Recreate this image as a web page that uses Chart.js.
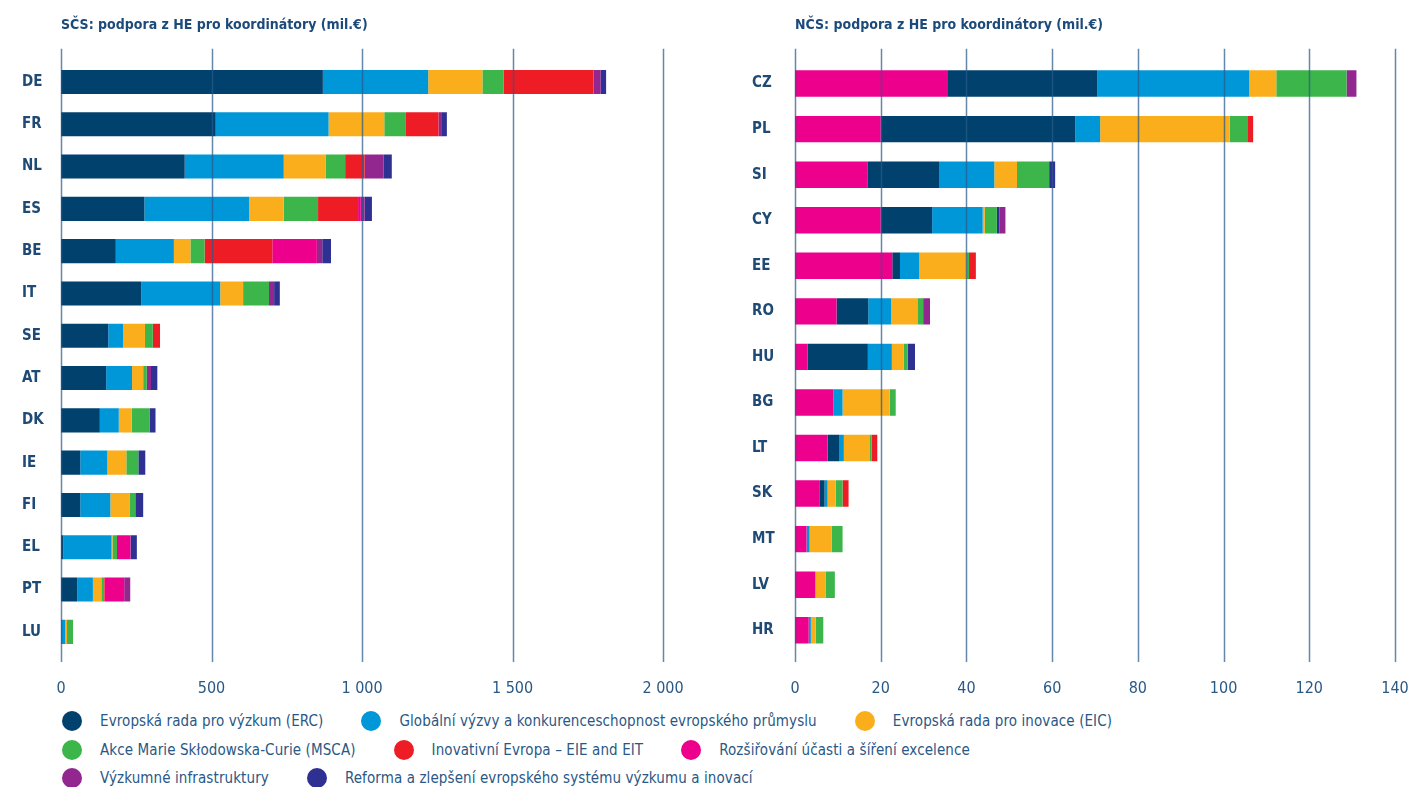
<!DOCTYPE html>
<html lang="cs">
<head>
<meta charset="utf-8">
<title>Podpora z HE pro koordinátory</title>
<script src="https://cdn.jsdelivr.net/npm/chart.js@4.4.1/dist/chart.umd.min.js"></script>
<style>
  body { margin: 0; background: #fff; font-family: 'Liberation Sans Narrow', 'DejaVu Sans Condensed', sans-serif; }
  #wrap { position: relative; width: 1420px; height: 787px; overflow: hidden; }
  #left { position: absolute; left: 0; top: 0; }
  #right { position: absolute; left: 700px; top: 0; }
  #legend { position: absolute; left: 62px; top: 707px; color: #2a5885; font-size: 15px; letter-spacing: 0.1px; }
  .row { display: flex; align-items: center; height: 28.5px; white-space: nowrap; }
  .item { display: flex; align-items: center; margin-right: 38px; }
  .dot { width: 20px; height: 20px; border-radius: 50%; margin-right: 18px; flex: none; }
</style>
</head>
<body>
<div id="wrap">
  <canvas id="left" width="700" height="700"></canvas>
  <canvas id="right" width="720" height="700"></canvas>
  <div id="legend"></div>
</div>
<script>
// SČS – staré členské státy (mil. €)
const scsCountries = ['DE', 'FR', 'NL', 'ES', 'BE', 'IT', 'SE', 'AT', 'DK', 'IE', 'FI', 'EL', 'PT', 'LU'];
const scsErc       = [870, 514, 411, 277, 182, 267, 157, 150, 129, 64, 64, 8, 54, 0];
const scsGlobal    = [350, 375, 329, 348, 193, 262, 49, 86, 63, 90, 100, 160, 52, 14];
const scsEic       = [180, 185, 140, 115, 55, 76, 73, 37, 43, 63, 65, 3, 28, 6];
const scsMsca      = [70, 72, 64, 114, 47, 86, 26, 12, 59, 40, 17, 15, 9, 20];
const scsInnov     = [299, 108, 65, 133, 225, 0, 24, 0, 0, 0, 0, 0, 2, 0];
const scsWidening  = [0, 0, 0, 9, 148, 0, 0, 0, 0, 0, 0, 44, 65, 0];
const scsInfra     = [24, 9, 62, 13, 18, 17, 0, 14, 0, 0, 2, 2, 20, 0];
const scsReform    = [18, 19, 28, 24, 29, 19, 0, 21, 20, 23, 25, 20, 0, 0];
const scsTicks     = [0, 500, 1000, 1500, 2000];

// NČS – nové členské státy (mil. €)
const ncsCountries = ['CZ', 'PL', 'SI', 'CY', 'EE', 'RO', 'HU', 'BG', 'LT', 'SK', 'MT', 'LV', 'HR'];
const ncsWidening  = [35.7, 20.0, 17.0, 20.0, 22.7, 9.7, 2.9, 9.0, 7.6, 5.8, 2.7, 4.7, 3.2];
const ncsErc       = [34.8, 45.4, 16.6, 12.0, 1.8, 7.4, 14.1, 0, 2.8, 1.1, 0, 0, 0];
const ncsGlobal    = [35.5, 5.8, 12.9, 11.8, 4.5, 5.3, 5.6, 2.1, 1.0, 0.7, 0.7, 0.1, 0.5];
const ncsEic       = [6.3, 30.2, 5.3, 0.5, 11.0, 6.3, 2.8, 11.0, 6.1, 1.9, 5.2, 2.4, 1.1];
const ncsMsca      = [16.4, 4.3, 7.5, 2.8, 0.6, 1.2, 0.9, 1.4, 0.4, 1.6, 2.5, 2.1, 1.8];
const ncsInnov     = [0, 1.2, 0, 0, 1.6, 0, 0, 0, 1.3, 1.4, 0, 0, 0];
const ncsReform    = [0, 0, 1.4, 0.6, 0, 0, 1.7, 0, 0, 0, 0, 0, 0];
const ncsInfra     = [2.3, 0, 0, 1.4, 0, 1.6, 0, 0, 0, 0, 0, 0, 0];
const ncsTicks     = [0, 20, 40, 60, 80, 100, 120, 140];

const programmes = [
  'Evropská rada pro výzkum (ERC)',
  'Globální výzvy a konkurenceschopnost evropského průmyslu',
  'Evropská rada pro inovace (EIC)',
  'Akce Marie Skłodowska-Curie (MSCA)',
  'Inovativní Evropa – EIE and EIT',
  'Rozšiřování účasti a šíření excelence',
  'Výzkumné infrastruktury',
  'Reforma a zlepšení evropského systému výzkumu a inovací'
];
const colours = ['#00416e', '#0097d9', '#fbae1c', '#3cb54a', '#ee1d25', '#ec008c', '#92278f', '#2e3192'];
const legendRows = [[0, 1, 2], [3, 4, 5], [6, 7]];

const FONT = "'Liberation Sans Narrow', 'DejaVu Sans Condensed', sans-serif";
const TEXT = '#2a5885';

// vertical grid lines drawn over the bars, a bit taller than the plot area
const gridOverlay = {
  id: 'gridOverlay',
  afterDatasetsDraw(chart) {
    const ctx = chart.ctx;
    const x = chart.scales.x;
    const { top, bottom } = chart.chartArea;
    ctx.save();
    ctx.strokeStyle = 'rgba(40, 90, 140, 0.72)';
    ctx.lineWidth = 1.5;
    x.ticks.forEach(t => {
      const px = Math.round(x.getPixelForValue(t.value)) + 0.5;
      ctx.beginPath();
      ctx.moveTo(px, top - 12);
      ctx.lineTo(px, bottom + 9);
      ctx.stroke();
    });
    ctx.restore();
  }
};

function thousands(v) {
  return String(v).replace(/\B(?=(\d{3})+(?!\d))/g, ' ');
}

function makeChart(id, title, labels, series, order, max, tickList, pad, axisWidth, barPct) {
  return new Chart(document.getElementById(id), {
    type: 'bar',
    data: {
      labels: labels,
      datasets: order.map(k => ({
        label: programmes[k],
        data: series[k],
        backgroundColor: colours[k],
        borderWidth: 0,
        categoryPercentage: 1,
        barPercentage: barPct
      }))
    },
    options: {
      indexAxis: 'y',
      responsive: false,
      animation: false,
      layout: { padding: pad },
      plugins: {
        legend: { display: false },
        tooltip: { enabled: false },
        title: {
          display: true,
          text: title,
          align: 'start',
          fullSize: false,
          color: '#1b4a7b',
          font: { family: FONT, size: 14, weight: 'bold' },
          padding: { top: 17, bottom: 27 }
        }
      },
      scales: {
        x: {
          stacked: true,
          min: 0,
          max: max,
          afterBuildTicks: s => { s.ticks = tickList.map(v => ({ value: v })); },
          afterFit: s => { s.height = 45; s.paddingLeft = 0; s.paddingRight = 0; },
          grid: { display: false, drawTicks: false },
          border: { display: false },
          ticks: {
            maxRotation: 0,
            padding: 26,
            color: TEXT,
            font: { family: FONT, size: 16 },
            callback: v => thousands(v)
          }
        },
        y: {
          stacked: true,
          grid: { display: false, drawTicks: false },
          border: { display: false },
          afterFit: s => { s.width = axisWidth; s.paddingTop = 0; s.paddingBottom = 0; },
          ticks: {
            crossAlign: 'far',
            padding: 0,
            color: '#1f4a75',
            font: { family: FONT, size: 15, weight: 'bold' }
          }
        }
      }
    },
    plugins: [gridOverlay]
  });
}

const scsSeries = [scsErc, scsGlobal, scsEic, scsMsca, scsInnov, scsWidening, scsInfra, scsReform];
const ncsSeries = [ncsErc, ncsGlobal, ncsEic, ncsMsca, ncsInnov, ncsWidening, ncsInfra, ncsReform];

makeChart('left', 'SČS: podpora z HE pro koordinátory (mil.€)', scsCountries, scsSeries,
  [0, 1, 2, 3, 4, 5, 6, 7], 2000, scsTicks,
  { left: 22, right: 37, top: 0, bottom: 2 }, 39, 0.57);

makeChart('right', 'NČS: podpora z HE pro koordinátory (mil.€)', ncsCountries, ncsSeries,
  [5, 0, 1, 2, 3, 4, 7, 6], 140, ncsTicks,
  { left: 52, right: 25, top: 0, bottom: 2 }, 43, 0.58);

// shared legend under both charts
const legend = document.getElementById('legend');
legendRows.forEach(row => {
  const r = document.createElement('div');
  r.className = 'row';
  row.forEach(k => {
    const item = document.createElement('div');
    item.className = 'item';
    const dot = document.createElement('span');
    dot.className = 'dot';
    dot.style.background = colours[k];
    const txt = document.createElement('span');
    txt.textContent = programmes[k];
    item.appendChild(dot);
    item.appendChild(txt);
    r.appendChild(item);
  });
  legend.appendChild(r);
});
</script>
</body>
</html>
